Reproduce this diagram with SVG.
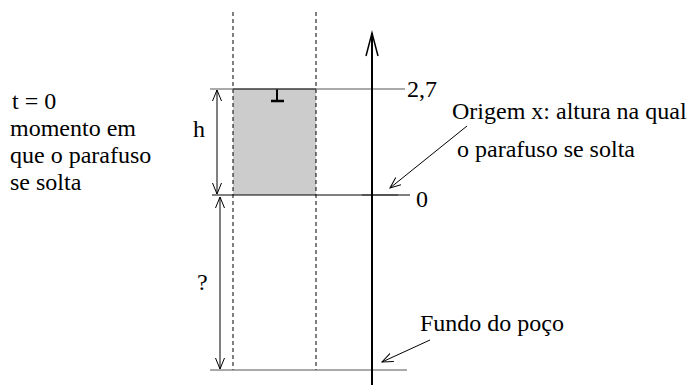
<svg xmlns="http://www.w3.org/2000/svg" width="692" height="385" viewBox="0 0 692 385">
<defs>
<style>
.t{font-family:"Liberation Serif","Times New Roman",serif;font-size:24px;fill:#000}
.ln{stroke:#000;stroke-width:1;fill:none}
.gl{stroke:#555;stroke-width:1;fill:none}
.ds{stroke:#000;stroke-width:1;stroke-dasharray:4,3;fill:none}
</style>
<marker id="oa" viewBox="0 0 12 10" refX="11" refY="5" markerWidth="12" markerHeight="10" markerUnits="userSpaceOnUse" orient="auto-start-reverse">
<path d="M0,0.5 L11,5 L0,9.5" fill="none" stroke="#000" stroke-width="1"/>
</marker>
</defs>
<rect width="692" height="385" fill="#fff"/>
<g id="well">
<rect x="233" y="89" width="83" height="106" fill="#cccccc"/>
<line class="ln" x1="233" y1="89" x2="316" y2="89"/>
<line class="ds" x1="233" y1="12" x2="233" y2="370"/>
<line class="ds" x1="316" y1="12" x2="316" y2="370"/>
</g>
<g id="bolt">
<line x1="277" y1="89" x2="277" y2="101" stroke="#000" stroke-width="2"/>
<line x1="271" y1="101" x2="284" y2="101" stroke="#000" stroke-width="2.5"/>
</g>
<g id="levels">
<line class="gl" x1="210" y1="89" x2="405" y2="89"/>
<line class="ln" x1="212" y1="195" x2="410" y2="195"/>
<line class="gl" x1="210" y1="370" x2="407" y2="370"/>
<line x1="362" y1="195" x2="398" y2="195" stroke="#555" stroke-width="2"/>
<text class="t" x="407" y="97">2,7</text>
<text class="t" x="416" y="207">0</text>
</g>
<g id="axis">
<line x1="372" y1="33" x2="372" y2="385" stroke="#000" stroke-width="2"/>
<path d="M366,56 L372,33 L378,56" fill="none" stroke="#000" stroke-width="1.5"/>
</g>
<g id="connectors">
<line class="ln" x1="217" y1="90" x2="217" y2="194" marker-start="url(#oa)" marker-end="url(#oa)"/>
<line class="ln" x1="220" y1="197" x2="220" y2="369" marker-start="url(#oa)" marker-end="url(#oa)"/>
<line class="ln" x1="467" y1="126" x2="390" y2="188" marker-end="url(#oa)"/>
<line class="ln" x1="430" y1="340" x2="382" y2="362" marker-end="url(#oa)"/>
</g>
<g id="labels">
<text class="t" x="193" y="137">h</text>
<text class="t" x="197" y="290">?</text>
<text class="t" x="12" y="109">t = 0</text>
<text class="t" x="10" y="136">momento em</text>
<text class="t" x="10" y="163">que o parafuso</text>
<text class="t" x="10" y="190">se solta</text>
<text class="t" x="452" y="119">Origem x: altura na qual</text>
<text class="t" x="457" y="157">o parafuso se solta</text>
<text class="t" x="420" y="331">Fundo do poço</text>
</g>
</svg>
